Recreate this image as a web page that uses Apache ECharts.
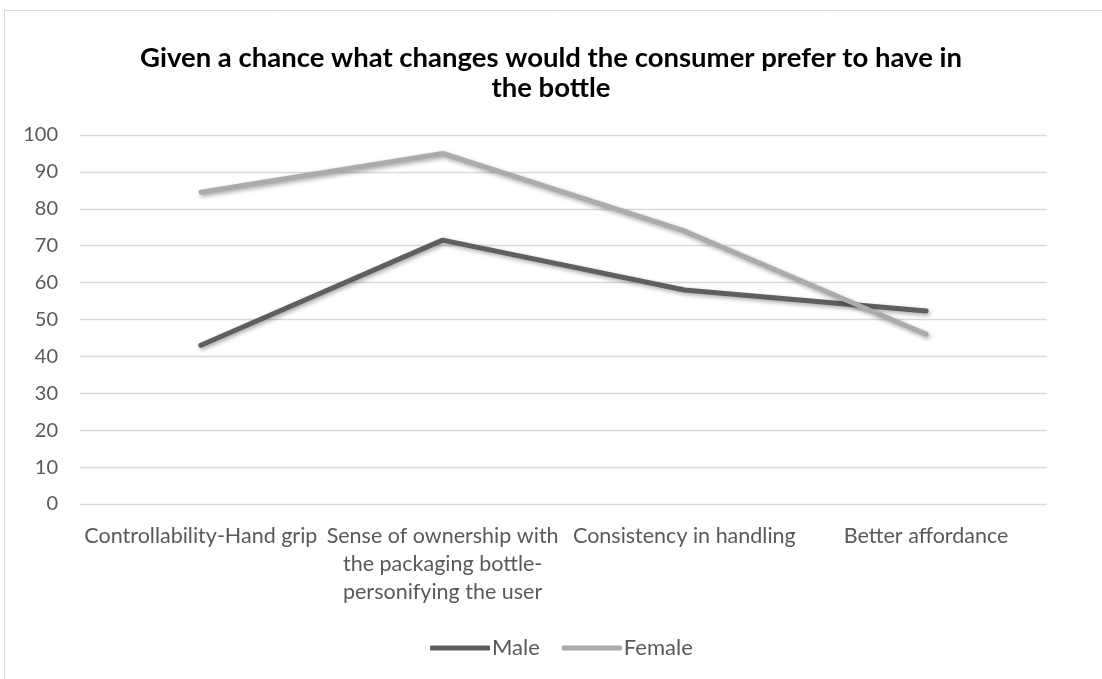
<!DOCTYPE html>
<html>
<head>
<meta charset="utf-8">
<script src="https://cdn.jsdelivr.net/npm/echarts@6/dist/echarts.min.js"></script>
<style>
html,body{margin:0;padding:0;background:#fff;}
#c{width:1102px;height:679px;}
</style>
</head>
<body>
<div id="c"></div>
<script>
const titleText = 'Given a chance what changes would the consumer prefer to have in\nthe bottle';
const categories = [
  'Controllability-Hand grip',
  'Sense of ownership with\nthe packaging bottle-\npersonifying the user',
  'Consistency in handling',
  'Better affordance'
];
const maleValues = [43, 71.5, 58, 52.3];
const femaleValues = [84.5, 95, 74, 46];
const seriesNames = ['Male', 'Female'];

const FONT = 'Lato, "Open Sans", sans-serif';
const chart = echarts.init(document.getElementById('c'));
const lineStyleBase = {width: 5, cap: 'round', join: 'round', shadowColor: 'rgba(0,0,0,0.35)', shadowBlur: 4, shadowOffsetX: 1.5, shadowOffsetY: 2};
chart.setOption({
  backgroundColor: '#fff',
  animation: false,
  graphic: [{
    type: 'rect', shape: {x: 4.5, y: 10.5, width: 1110, height: 700},
    style: {fill: 'none', stroke: '#d9d9d9', lineWidth: 1}, silent: true, z: -10
  }],
  title: {
    text: titleText, left: 'center', top: 38,
    textStyle: {fontFamily: FONT, fontWeight: 'bold', fontSize: 27.5, color: '#000', lineHeight: 30}
  },
  grid: {left: 80, right: 55, top: 135, bottom: 175, containLabel: false},
  xAxis: {
    type: 'category', data: categories, boundaryGap: true,
    axisLine: {show: false}, axisTick: {show: false},
    axisLabel: {interval: 0, fontFamily: FONT, fontSize: 21.5, color: '#595959', lineHeight: 28, margin: 18, verticalAlign: 'top'}
  },
  yAxis: {
    type: 'value', min: 0, max: 100, interval: 10,
    axisLine: {show: false}, axisTick: {show: false},
    axisLabel: {fontFamily: FONT, fontSize: 20, color: '#595959', margin: 22},
    splitLine: {lineStyle: {color: '#d9d9d9', width: 1.3}}
  },
  legend: {
    data: seriesNames, top: 637, left: 430, itemGap: 22, padding: 0,
    icon: 'roundRect', itemWidth: 60, itemHeight: 5,
    textStyle: {fontFamily: FONT, fontSize: 22, color: '#595959', padding: [0, 0, 0, -3]}
  },
  series: [
    {name: seriesNames[0], type: 'line', data: maleValues, symbol: 'none', color: '#5f5f5f',
     lineStyle: Object.assign({color: '#5f5f5f'}, lineStyleBase)},
    {name: seriesNames[1], type: 'line', data: femaleValues, symbol: 'none', color: '#ababab',
     lineStyle: Object.assign({color: '#ababab'}, lineStyleBase)}
  ]
});
</script>
</body>
</html>
